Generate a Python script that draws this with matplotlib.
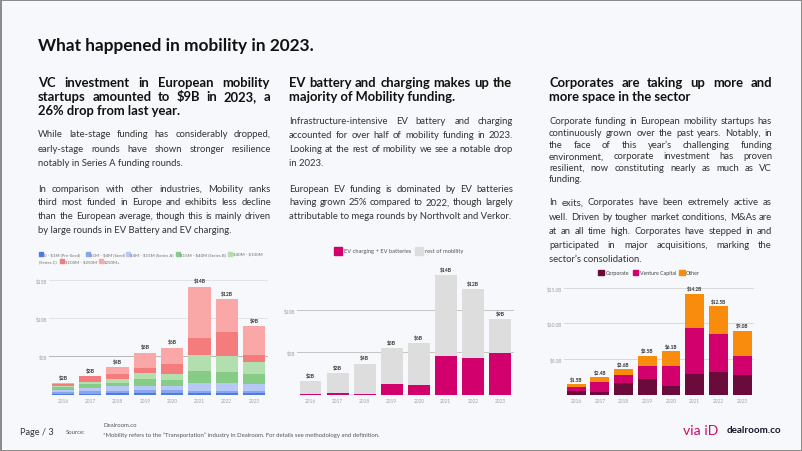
import matplotlib
matplotlib.use('Agg')
import matplotlib.pyplot as plt
from matplotlib.patches import Rectangle
import numpy as np

W, H = 802, 452
FONT = 'Lato'
plt.rcParams['font.family'] = [FONT, 'DejaVu Sans']

# ---------------- data ----------------
years = ['2016', '2017', '2018', '2019', '2020', '2021', '2022', '2023']

# chart 1: VC by round size ($B)
stage_names = ['0 - $1M (Pre-Seed)', '$1M - $4M (Seed)', '$4M - $15M (Series A)',
               '$15M - $40M (Series B)', '$40M - $100M (Series C)', '$100M - $250M', '$250M+']
preseed = [0.05, 0.13, 0.17, 0.20, 0.25, 0.20, 0.20, 0.16]
seed = [0.25, 0.35, 0.31, 0.40, 0.35, 0.30, 0.30, 0.30]
series_a = [0.35, 0.35, 0.57, 0.55, 0.45, 1.00, 1.00, 0.92]
series_b = [0.30, 0.52, 0.52, 0.85, 0.85, 1.60, 1.40, 1.30]
series_c = [0.15, 0.35, 0.44, 0.80, 0.75, 2.05, 2.18, 1.60]
mega_100_250 = [0.25, 0.74, 0.74, 0.65, 1.30, 2.20, 3.07, 0.88]
mega_250 = [0.15, 0.00, 0.87, 2.05, 2.20, 6.80, 4.37, 3.80]
labels1 = ['$2B', '$3B', '$4B', '$5B', '$6B', '$14B', '$12B', '$9B']

# chart 2: EV vs rest ($B)
ev_names = ['EV charging + EV batteries', 'rest of mobility']
ev_funding = [0.08, 0.12, 0.07, 1.26, 1.18, 4.60, 4.36, 4.90]
rest_funding = [1.48, 2.43, 3.58, 4.24, 4.92, 9.56, 8.14, 4.05]
labels2 = ['$2B', '$3B', '$4B', '$5B', '$6B', '$14B', '$12B', '$9B']

# chart 3: investor type ($B)
inv_names = ['Corporate', 'Venture Capital', 'Other']
corporate = [0.50, 0.40, 1.63, 2.20, 1.17, 2.87, 3.13, 2.75]
venture = [0.60, 1.40, 1.12, 1.83, 2.85, 6.46, 5.38, 2.63]
other = [0.40, 0.62, 0.84, 1.45, 2.06, 4.86, 3.93, 3.60]
labels3 = ['$1.5B', '$2.4B', '$3.6B', '$5.5B', '$6.1B', '$14.2B', '$12.5B', '$9.0B']

ticks1 = [5, 10, 15]
ticklabels1 = ['$5B', '$10B', '$15B']
ticklabels3 = ['$5.0B', '$10.0B', '$15.0B']

# ---------------- styles ----------------
BG = '#f7f8fb'
stage_colors = ['#4f7be0', '#87a6ef', '#b6c9f6', '#86cc86', '#b2dfad', '#f47c7c', '#f9a7a7']
ev_colors = ['#d1006d', '#dddddd']
inv_colors = ['#6a0b3b', '#d1006d', '#f98c0c']

fig = plt.figure(figsize=(W / 100, H / 100), dpi=100)
fig.patch.set_facecolor(BG)
renderer = fig.canvas.get_renderer()


def fx(x):
    return x / W


def fy(y):
    return 1 - y / H


def ftext(x, y, s, **kw):
    kw.setdefault('ha', 'left')
    kw.setdefault('va', 'center')
    return fig.text(fx(x), fy(y), s, parse_math=False, **kw)


def text_width(s, size, weight='normal'):
    t = fig.text(0, 0, s, fontsize=size, fontweight=weight, parse_math=False)
    w = t.get_window_extent(renderer).width
    t.remove()
    return w


def fit(s, target, weight='normal'):
    return 10 * target / text_width(s, 10, weight)


def put_line(s, x0, x1, y, size, weight, color, justify):
    if not justify or ' ' not in s:
        ftext(x0, y, s, fontsize=size, fontweight=weight, color=color)
        return
    words = s.split(' ')
    widths = [text_width(w, size, weight) for w in words]
    gap = (x1 - x0 - sum(widths)) / (len(words) - 1)
    x = x0
    for w, wd in zip(words, widths):
        ftext(x, y, w, fontsize=size, fontweight=weight, color=color)
        x += wd + gap


def put_par(lines, x0, x1, ys, size, weight='normal', color='#333333', last_just=False):
    for i, (s, y) in enumerate(zip(lines, ys)):
        just = (i < len(lines) - 1) or last_just
        put_line(s, x0, x1, y, size, weight, color, just)


# ---------------- text ----------------
title_size = fit('What happened in mobility in 2023.', 275, 'bold')
ftext(38, 46, 'What happened in mobility in 2023.', fontsize=title_size,
      fontweight='bold', color='#111111')

head_size = fit('26% drop from last year.', 143, 'bold')
body_size = fit('notably in Series A funding rounds.', 146)

# column 1
put_par(['VC investment in European mobility',
         'startups amounted to $9B in 2023, a',
         '26% drop from last year.'], 38, 270, [83, 97, 111], head_size, 'bold', '#111111')
put_par(['While late-stage funding has considerably dropped,',
         'early-stage rounds have shown stronger resilience',
         'notably in Series A funding rounds.'], 38, 271, [135, 149.5, 163.5], body_size)
put_par(['In comparison with other industries, Mobility ranks',
         'third most funded in Europe and exhibits less decline',
         'than the European average, though this is mainly driven',
         'by large rounds in EV Battery and EV charging.'], 38, 271,
        [189, 203, 217, 230.5], body_size)

# column 2
put_par(['EV battery and charging makes up the',
         'majority of Mobility funding.'], 289, 512, [83, 97], head_size, 'bold', '#111111')
put_par(['Infrastructure-intensive EV battery and charging',
         'accounted for over half of mobility funding in 2023.',
         'Looking at the rest of mobility we see a notable drop',
         'in 2023.'], 289, 513, [122, 136, 150, 164], body_size)
put_par(['European EV funding is dominated by EV batteries',
         'having grown 25% compared to 2022, though largely',
         'attributable to mega rounds by Northvolt and Verkor.'], 289, 513,
        [189, 203, 217], body_size)

# column 3
put_par(['Corporates are taking up more and',
         'more space in the sector'], 549, 772, [83, 97], head_size, 'bold', '#111111')
put_par(['Corporate funding in European mobility startups has',
         'continuously grown over the past years. Notably, in',
         'the face of this year\u2019s challenging funding',
         'environment, corporate investment has proven',
         'resilient, now constituting nearly as much as VC',
         'funding.'], 549, 772, [122, 133.5, 145, 157, 168.5, 180], body_size)
put_par(['In exits, Corporates have been extremely active as',
         'well. Driven by tougher market conditions, M&As are',
         'at an all time high. Corporates have stepped in and',
         'participated in major acquisitions, marking the',
         'sector\u2019s consolidation.'], 549, 772, [203, 217.5, 232, 246, 260], body_size)


# ---------------- charts ----------------
def esc(labels):
    return [s.replace('$', r'\$') for s in labels]


def make_ax(left, right, base, px_per_unit, ymax=16):
    top = base - px_per_unit * ymax
    ax = fig.add_axes([left / W, 1 - base / H, (right - left) / W, (base - top) / H])
    ax.set_facecolor('none')
    ax.set_xlim(-0.5, 7.5)
    ax.set_ylim(0, ymax)
    for s in ax.spines.values():
        s.set_visible(False)
    ax.tick_params(axis='both', length=0, labelsize=3.4, colors='#a0a0a0')
    ax.tick_params(axis='x', pad=2.2)
    ax.tick_params(axis='y', pad=1.5)
    ax.set_xticks(range(len(years)))
    ax.set_xticklabels(years)
    return ax


def bar_labels(ax, totals, labels, size, off):
    for xi, tot, lb in zip(range(len(totals)), totals, labels):
        ax.annotate(lb, (xi, tot), xytext=(0, off), textcoords='offset points',
                    ha='center', va='bottom', fontsize=size, fontweight='bold',
                    color='#333333', parse_math=False)


x = np.arange(len(years))

# chart 1
ax1 = make_ax(49.3, 267.7, 395.5, 7.63)
for t, c in zip(ticks1, ['#b8b8b8', '#e2e2e2', '#e2e2e2']):
    ax1.axhline(t, color=c, lw=0.7, zorder=0)
ax1.set_yticks(ticks1)
ax1.set_yticklabels(esc(ticklabels1))
bottom = np.zeros(len(years))
for vals, col in zip([preseed, seed, series_a, series_b, series_c, mega_100_250, mega_250],
                     stage_colors):
    ax1.bar(x, vals, 0.81, bottom=bottom, color=col, zorder=2)
    bottom += np.array(vals)
bar_labels(ax1, bottom, labels1, 3.6, 2.2)

# chart 1 legend
leg_size1 = fit(stage_names[0], 37)
leg1 = [(38.5, 255, 0), (85.5, 255, 1), (125.5, 255, 2), (175.5, 255, 3), (228, 255, 4),
        (60, 262, 5), (99, 262, 6)]
for lx, ly, i in leg1:
    fig.patches.append(Rectangle((fx(lx), fy(ly + 2)), 4 / W, 4 / H, color=stage_colors[i],
                                 transform=fig.transFigure))
    name = stage_names[i]
    if i == 4:
        name = '$40M - $100M'
        ftext(39, 262, '(Series C)', fontsize=leg_size1, color='#707070')
    ftext(lx + 5, ly, name, fontsize=leg_size1, color='#707070')

# chart 2
ax2 = make_ax(297, 513.5, 395.5, 8.44)
for t in ticks1[:2]:
    ax2.axhline(t, color='#c4c4c4', lw=0.7, zorder=0)
ax2.set_yticks(ticks1[:2])
ax2.set_yticklabels(esc(ticklabels1[:2]))
ax2.bar(x, ev_funding, 0.81, color=ev_colors[0], zorder=2)
ax2.bar(x, rest_funding, 0.81, bottom=ev_funding, color=ev_colors[1], zorder=2)
tot2 = np.array(ev_funding) + np.array(rest_funding)
bar_labels(ax2, tot2, labels2, 3.6, 2.2)
leg_size2 = fit(ev_names[0], 67)
for (lx, tx), i in zip([(334, 343.5), (415, 425)], range(2)):
    fig.patches.append(Rectangle((fx(lx), fy(256)), 8 / W, 8 / H, color=ev_colors[i],
                                 transform=fig.transFigure))
    ftext(tx, 252, ev_names[i], fontsize=leg_size2, color='#555555')

# chart 3
ax3 = make_ax(564.3, 754, 395.6, 7.12)
for t in [0] + ticks1:
    ax3.axhline(t, color='#d4d4d4', lw=0.6, zorder=0)
ax3.set_yticks(ticks1)
ax3.set_yticklabels(esc(ticklabels3))
bottom = np.zeros(len(years))
for vals, col in zip([corporate, venture, other], inv_colors):
    ax3.bar(x, vals, 0.8, bottom=bottom, color=col, zorder=2)
    bottom += np.array(vals)
bar_labels(ax3, bottom, labels3, 3.4, 1.5)
leg_size3 = fit(inv_names[1], 36)
for (lx, tx), i in zip([(598.3, 605.5), (632.7, 639.5), (679, 685.7)], range(3)):
    fig.patches.append(Rectangle((fx(lx), fy(276)), 5.7 / W, 5.5 / H, color=inv_colors[i],
                                 transform=fig.transFigure))
    ftext(tx, 273.3, inv_names[i], fontsize=leg_size3, color='#444444')

# ---------------- footer ----------------
ftext(20, 432.5, 'Page / 3', fontsize=6.6, color='#333333')
ftext(66, 433, 'Source:', fontsize=4.3, color='#555555')
ftext(103, 425.5, 'Dealroom.co', fontsize=4.3, color='#555555')
ftext(103, 435.5,
      '*Mobility refers to the \u201cTransportation\u201d industry in Dealroom. '
      'For details see methodology and definition.',
      fontsize=4.3, color='#555555')
logo_size = fit('via iD', 35)
ftext(683, 431, 'via iD', fontsize=logo_size, color='#cc0a6e')
dr_size = fit('dealroom.co', 55, 'bold')
ftext(727, 431, 'dealroom.co', fontsize=dr_size, fontweight='bold', color='#15162a')

# border
fig.patches.append(Rectangle((0.5 / W, 0.5 / H), 1 - 1 / W, 1 - 1 / H, fill=False,
                             edgecolor='#8a8a8a', lw=1.4, transform=fig.transFigure))

fig.savefig('out.png', dpi=100, facecolor=BG)
